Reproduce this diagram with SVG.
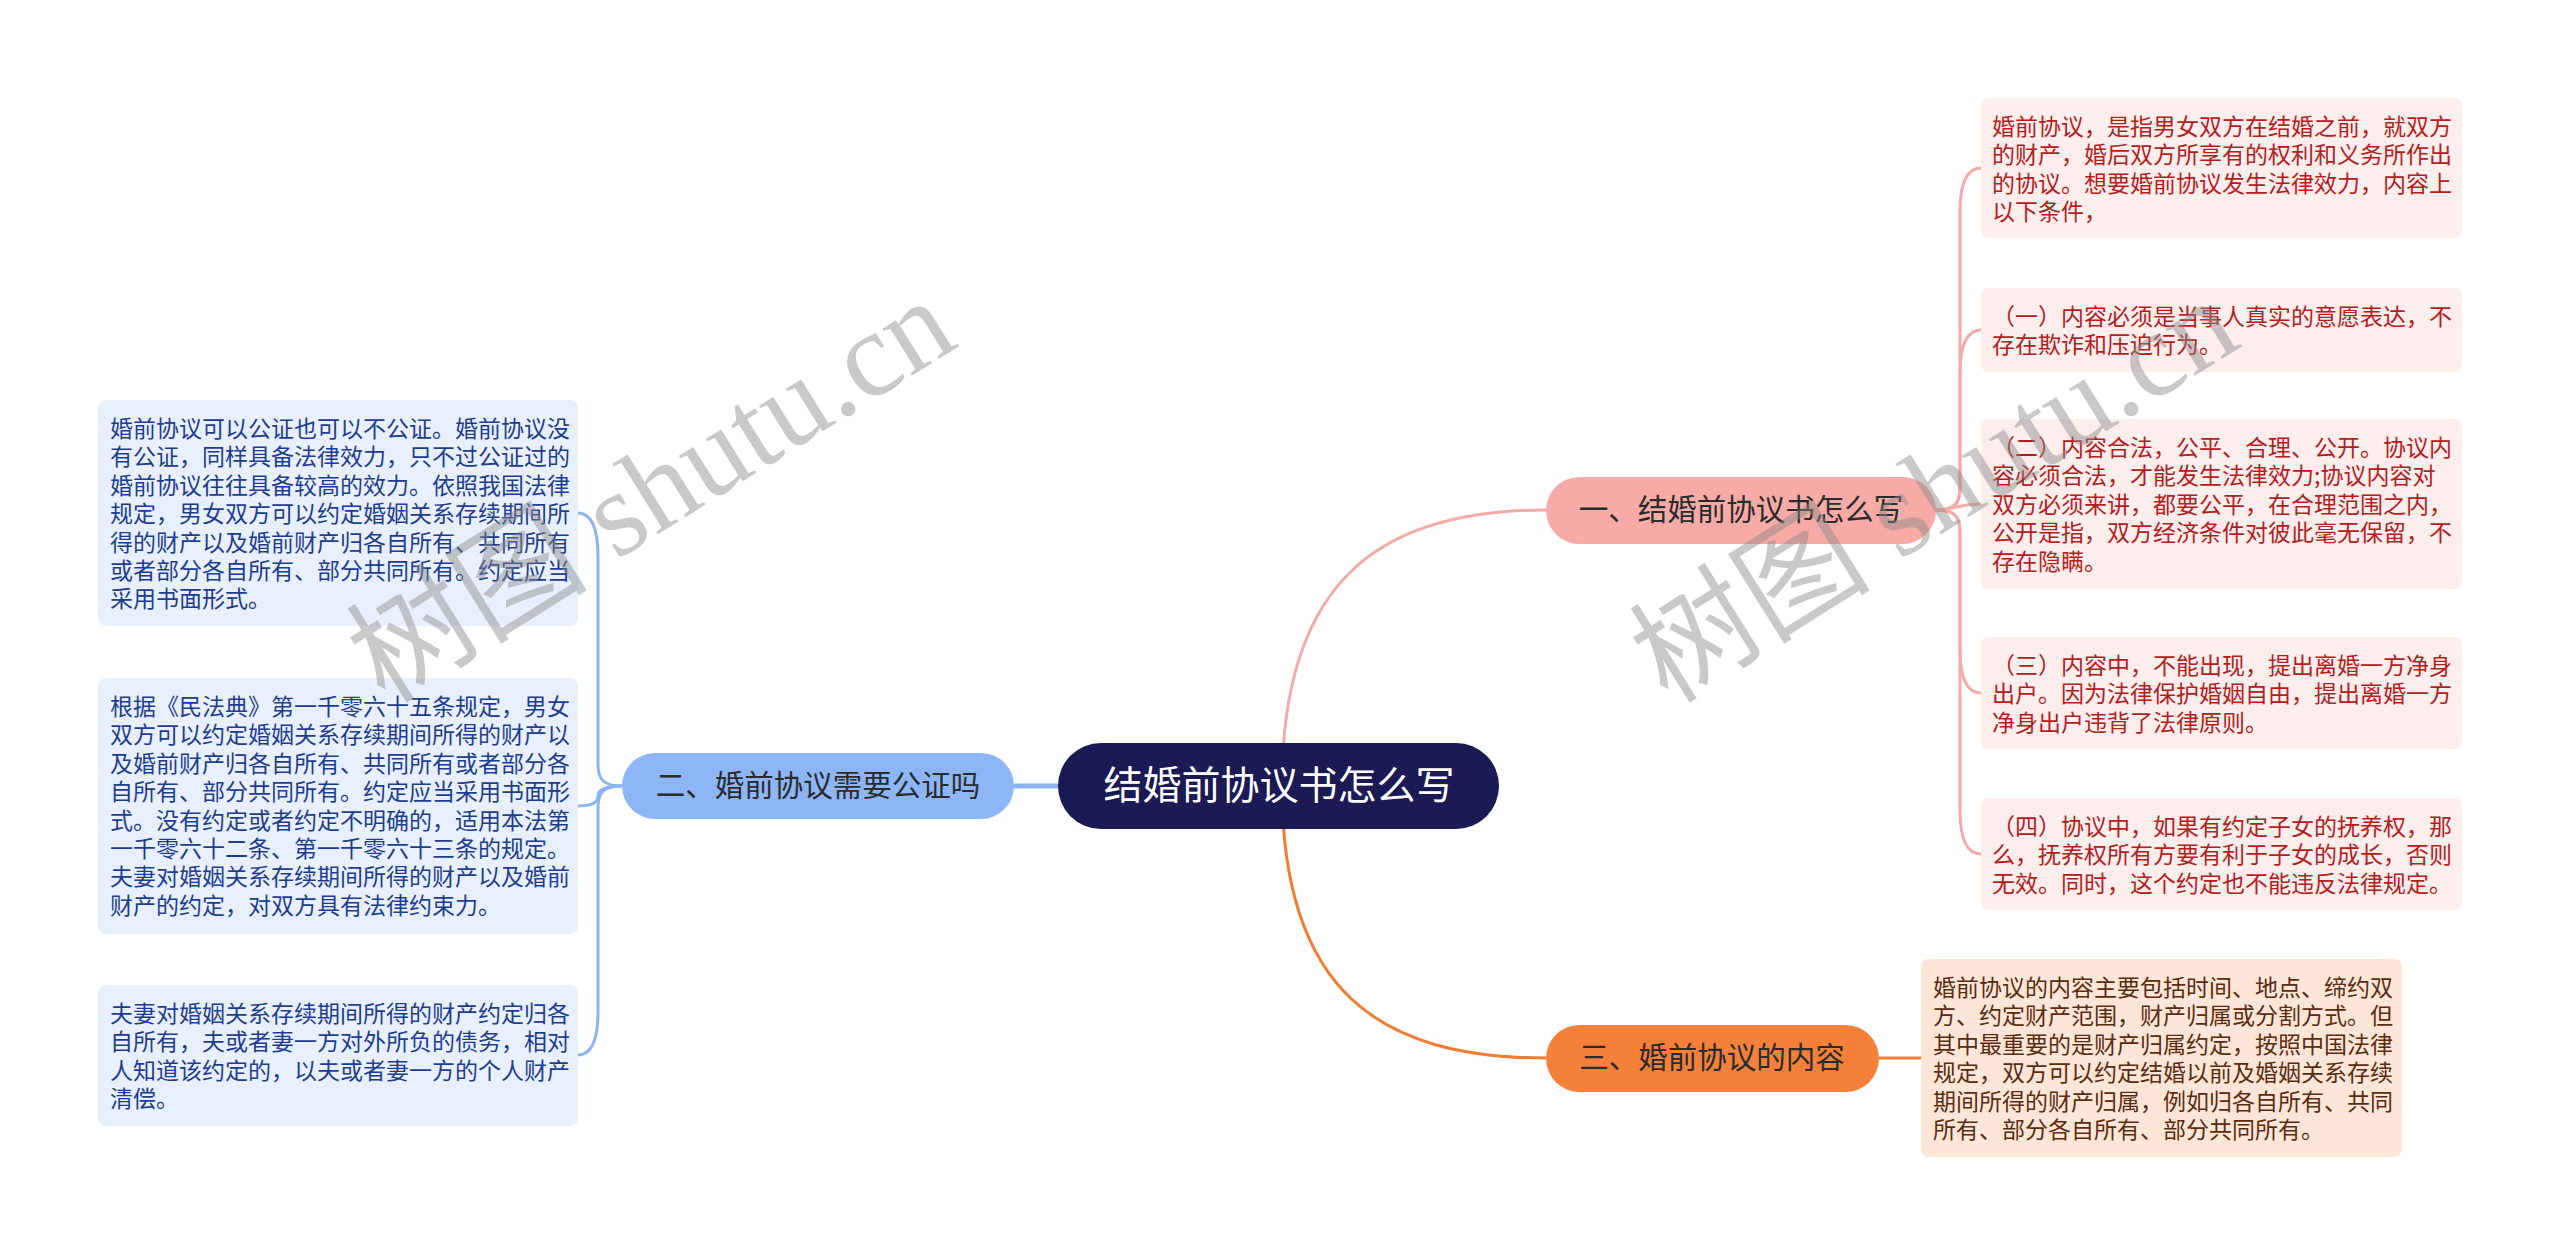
<svg xmlns="http://www.w3.org/2000/svg" width="2560" height="1257" viewBox="0 0 2560 1257">
<style>
.cjk{font-family:"Noto Sans CJK SC","Noto Sans",sans-serif}
.leaf{font-size:23px}
.pk{fill:#fdeeee}
.pkt{fill:#b3201c}
.bl{fill:#e8f0fd}
.blt{fill:#1e3d8f}
.og{fill:#fde6d8}
.ogt{fill:#5a2c10}
.br{font-size:29.5px;fill:#2b2b2b;text-anchor:middle}
.c-pk{fill:none;stroke:#f2aba8;stroke-width:3}
.c-bl{fill:none;stroke:#8db4f2;stroke-width:3}
.c-og{fill:none;stroke:#f07d32;stroke-width:3}
.wm{font-family:"Liberation Serif","Noto Sans CJK SC",serif;font-size:121px;fill:#8a8a8a;opacity:0.45}
</style>
<rect width="2560" height="1257" fill="#ffffff"/>
<g id="connectors">
<path class="c-pk" d="M1282,786 C1282,580 1380,510 1546,510"/>
<path class="c-og" d="M1282,786 C1282,992 1380,1058 1546,1058"/>
<path class="c-bl" d="M1014,786 L1060,786" style="stroke-width:5"/>
<path class="c-og" d="M1879,1058 L1921,1058"/>
<path class="c-pk" d="M1936,510 C1954,510 1960,504 1960,488 L1960,212 C1960,182 1967,168 1981,168"/>
<path class="c-pk" d="M1936,510 C1954,510 1960,504 1960,488 L1960,374 C1960,344 1967,330 1981,330"/>
<path class="c-pk" d="M1936,510 C1950,510 1960,504 1981,504"/>
<path class="c-pk" d="M1936,510 C1954,510 1960,516 1960,532 L1960,649 C1960,679 1967,693 1981,693"/>
<path class="c-pk" d="M1936,510 C1954,510 1960,516 1960,532 L1960,810 C1960,840 1967,854 1981,854"/>
<path class="c-bl" d="M622,786 C604,786 598,780 598,764 L598,557 C598,527 591,513 578,513"/>
<path class="c-bl" d="M622,786 C604,786 598,790 598,796 C598,802 592,806 578,806"/>
<path class="c-bl" d="M622,786 C604,786 598,792 598,808 L598,1011 C598,1041 591,1055 578,1055"/>
</g>
<g id="center">
<rect x="1058" y="743" width="441" height="86" rx="43" fill="#1b1a55"/>
<text class="cjk" x="1279" y="799" font-size="39" fill="#ffffff" text-anchor="middle">结婚前协议书怎么写</text>
</g>
<g id="branch1">
<rect x="1546" y="477" width="390" height="67" rx="33.5" fill="#f7aaa6"/>
<text class="cjk br" x="1741" y="520">一、结婚前协议书怎么写</text>
</g>
<g id="branch2">
<rect x="622" y="753" width="392" height="66" rx="33" fill="#8cb6f8"/>
<text class="cjk br" x="818" y="796">二、婚前协议需要公证吗</text>
</g>
<g id="branch3">
<rect x="1546" y="1025" width="333" height="67" rx="33.5" fill="#f5803a"/>
<text class="cjk br" x="1712" y="1068">三、婚前协议的内容</text>
</g>
<g id="leaf-p1">
<rect class="pk" x="1981" y="98" width="481" height="140" rx="8"/>
<text class="cjk leaf pkt" x="1992" y="135"><tspan x="1992">婚前协议，是指男女双方在结婚之前，就双方</tspan><tspan x="1992" dy="28.4">的财产，婚后双方所享有的权利和义务所作出</tspan><tspan x="1992" dy="28.4">的协议。想要婚前协议发生法律效力，内容上</tspan><tspan x="1992" dy="28.4">以下条件，</tspan></text>
</g>
<g id="leaf-p2">
<rect class="pk" x="1981" y="288" width="481" height="84" rx="8"/>
<text class="cjk leaf pkt" x="1992" y="325"><tspan x="1992">（一）内容必须是当事人真实的意愿表达，不</tspan><tspan x="1992" dy="28.4">存在欺诈和压迫行为。</tspan></text>
</g>
<g id="leaf-p3">
<rect class="pk" x="1981" y="419" width="481" height="170" rx="8"/>
<text class="cjk leaf pkt" x="1992" y="456"><tspan x="1992">（二）内容合法，公平、合理、公开。协议内</tspan><tspan x="1992" dy="28.4">容必须合法，才能发生法律效力;协议内容对</tspan><tspan x="1992" dy="28.4">双方必须来讲，都要公平，在合理范围之内，</tspan><tspan x="1992" dy="28.4">公开是指，双方经济条件对彼此毫无保留，不</tspan><tspan x="1992" dy="28.4">存在隐瞒。</tspan></text>
</g>
<g id="leaf-p4">
<rect class="pk" x="1981" y="637" width="481" height="112" rx="8"/>
<text class="cjk leaf pkt" x="1992" y="674"><tspan x="1992">（三）内容中，不能出现，提出离婚一方净身</tspan><tspan x="1992" dy="28.4">出户。因为法律保护婚姻自由，提出离婚一方</tspan><tspan x="1992" dy="28.4">净身出户违背了法律原则。</tspan></text>
</g>
<g id="leaf-p5">
<rect class="pk" x="1981" y="798" width="481" height="112" rx="8"/>
<text class="cjk leaf pkt" x="1992" y="835"><tspan x="1992">（四）协议中，如果有约定子女的抚养权，那</tspan><tspan x="1992" dy="28.4">么，抚养权所有方要有利于子女的成长，否则</tspan><tspan x="1992" dy="28.4">无效。同时，这个约定也不能违反法律规定。</tspan></text>
</g>
<g id="leaf-o1">
<rect class="og" x="1921" y="959" width="481" height="198" rx="8"/>
<text class="cjk leaf ogt" x="1933" y="996"><tspan x="1933">婚前协议的内容主要包括时间、地点、缔约双</tspan><tspan x="1933" dy="28.4">方、约定财产范围，财产归属或分割方式。但</tspan><tspan x="1933" dy="28.4">其中最重要的是财产归属约定，按照中国法律</tspan><tspan x="1933" dy="28.4">规定，双方可以约定结婚以前及婚姻关系存续</tspan><tspan x="1933" dy="28.4">期间所得的财产归属，例如归各自所有、共同</tspan><tspan x="1933" dy="28.4">所有、部分各自所有、部分共同所有。</tspan></text>
</g>
<g id="leaf-b1">
<rect class="bl" x="98" y="400" width="480" height="226" rx="8"/>
<text class="cjk leaf blt" x="110" y="437"><tspan x="110">婚前协议可以公证也可以不公证。婚前协议没</tspan><tspan x="110" dy="28.4">有公证，同样具备法律效力，只不过公证过的</tspan><tspan x="110" dy="28.4">婚前协议往往具备较高的效力。依照我国法律</tspan><tspan x="110" dy="28.4">规定，男女双方可以约定婚姻关系存续期间所</tspan><tspan x="110" dy="28.4">得的财产以及婚前财产归各自所有、共同所有</tspan><tspan x="110" dy="28.4">或者部分各自所有、部分共同所有。约定应当</tspan><tspan x="110" dy="28.4">采用书面形式。</tspan></text>
</g>
<g id="leaf-b2">
<rect class="bl" x="98" y="678" width="480" height="256" rx="8"/>
<text class="cjk leaf blt" x="110" y="715"><tspan x="110">根据《民法典》第一千零六十五条规定，男女</tspan><tspan x="110" dy="28.4">双方可以约定婚姻关系存续期间所得的财产以</tspan><tspan x="110" dy="28.4">及婚前财产归各自所有、共同所有或者部分各</tspan><tspan x="110" dy="28.4">自所有、部分共同所有。约定应当采用书面形</tspan><tspan x="110" dy="28.4">式。没有约定或者约定不明确的，适用本法第</tspan><tspan x="110" dy="28.4">一千零六十二条、第一千零六十三条的规定。</tspan><tspan x="110" dy="28.4">夫妻对婚姻关系存续期间所得的财产以及婚前</tspan><tspan x="110" dy="28.4">财产的约定，对双方具有法律约束力。</tspan></text>
</g>
<g id="leaf-b3">
<rect class="bl" x="98" y="985" width="480" height="141" rx="8"/>
<text class="cjk leaf blt" x="110" y="1022"><tspan x="110">夫妻对婚姻关系存续期间所得的财产约定归各</tspan><tspan x="110" dy="28.4">自所有，夫或者妻一方对外所负的债务，相对</tspan><tspan x="110" dy="28.4">人知道该约定的，以夫或者妻一方的个人财产</tspan><tspan x="110" dy="28.4">清偿。</tspan></text>
</g>
<g id="watermarks">
<text class="wm" x="385" y="705" transform="rotate(-32 385 705)">树图 shutu.cn</text>
<text class="wm" x="1668" y="705" transform="rotate(-32 1668 705)">树图 shutu.cn</text>
</g>
</svg>
